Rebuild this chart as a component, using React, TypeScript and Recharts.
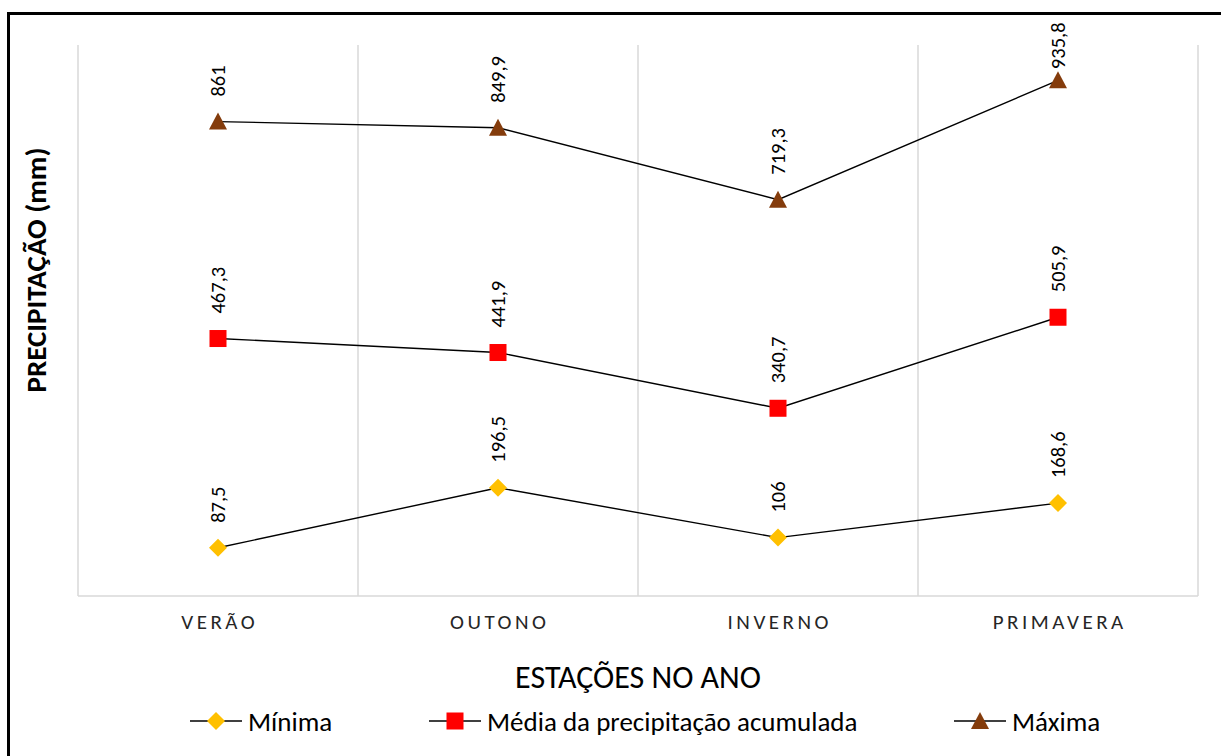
import React from 'react';
import { LineChart, Line, XAxis, YAxis, CartesianGrid, LabelList, Legend } from 'recharts';

const categories = ['VERÃO', 'OUTONO', 'INVERNO', 'PRIMAVERA'];
const minima = [87.5, 196.5, 106, 168.6];
const media = [467.3, 441.9, 340.7, 505.9];
const maxima = [861, 849.9, 719.3, 935.8];

const data = categories.map((season, i) => ({
    season,
    min: minima[i],
    media: media[i],
    max: maxima[i]
}));

const FONT = "Carlito, Calibri, 'Liberation Sans Narrow', 'Open Sans', sans-serif";
const YELLOW = '#FFC000';
const RED = '#FF0000';
const BROWN = '#843C0C';
const LABEL_SIZE = 20.5;

const fmt = (v: number) => String(v).replace('.', ',');

const Marker = ({ kind, cx, cy }: { kind: string; cx: number; cy: number }) => {
    if (kind === 'diamond') {
        return <path d={`M${cx},${cy - 9} L${cx + 9},${cy} L${cx},${cy + 9} L${cx - 9},${cy} Z`} fill={YELLOW} />;
    }
    if (kind === 'square') {
        return <rect x={cx - 8.5} y={cy - 8.5} width={17} height={17} fill={RED} />;
    }
    return <path d={`M${cx},${cy - 9} L${cx + 9},${cy + 8} L${cx - 9},${cy + 8} Z`} fill={BROWN} />;
};

const dotFor = (kind: string) => (props: any) => (
    <Marker key={`${kind}-${props.index}`} kind={kind} cx={props.cx} cy={props.cy} />
);

// rotated value label above the point; pushed down when it would leave the chart
const RotatedLabel = (props: any) => {
    const { x, y, value } = props;
    const text = fmt(value);
    const len = text.length * LABEL_SIZE * 0.46;
    const ly = Math.max(y - 25, 22 + len);
    return (
        <text
            x={x}
            y={ly}
            transform={`rotate(-90, ${x}, ${ly})`}
            textAnchor="start"
            dominantBaseline="central"
            fontFamily={FONT}
            fontSize={LABEL_SIZE}
            fill="#000"
        >
            {text}
        </text>
    );
};

const SeasonTick = (props: any) => {
    const { x, y, payload } = props;
    return (
        <text x={x + 1.75} y={y + 18} textAnchor="middle" dominantBaseline="central"
            fontFamily={FONT} fontSize={21} letterSpacing={3.5} fill="#262626">
            {payload.value}
        </text>
    );
};

const legendItems = [
    { name: 'Mínima', kind: 'diamond', left: 190 },
    { name: 'Média da precipitação acumulada', kind: 'square', left: 429 },
    { name: 'Máxima', kind: 'triangle', left: 954 }
];

const LegendContent = () => (
    <div style={{ position: 'relative', height: 30 }}>
        {legendItems.map(item => (
            <div key={item.name} style={{ position: 'absolute', left: item.left, top: 0, display: 'flex', alignItems: 'center', height: 30 }}>
                <svg width={52} height={24}>
                    <line x1={0} y1={12} x2={52} y2={12} stroke="#000" strokeWidth={1.5} />
                    <Marker kind={item.kind} cx={26} cy={12} />
                </svg>
                <span style={{ fontFamily: FONT, fontSize: 27, color: '#000', marginLeft: 6, whiteSpace: 'nowrap' }}>{item.name}</span>
            </div>
        ))}
    </div>
);

const App: React.FC = () => {
    return (
        <div>
            <div style={{ position: 'fixed', left: 7, top: 12, width: 1230, height: 760, border: '3px solid #000', boxSizing: 'border-box', background: '#fff' }} />
            <div style={{ position: 'fixed', left: 0, top: 0 }}>
                <LineChart width={1221} height={756} data={data} margin={{ top: 45, right: 23, bottom: 0, left: 0 }}>
                    <CartesianGrid
                        horizontal={false}
                        stroke="#d9d9d9"
                        strokeWidth={1.5}
                        verticalCoordinatesGenerator={({ offset }: any) =>
                            Array.from({ length: categories.length + 1 }, (_, i) => offset.left + (i * offset.width) / categories.length)
                        }
                    />
                    <XAxis
                        dataKey="season"
                        scale="band"
                        height={130}
                        tickLine={false}
                        axisLine={{ stroke: '#d9d9d9', strokeWidth: 1.5 }}
                        tick={<SeasonTick />}
                        label={{
                            content: () => (
                                <text x={638} y={677} textAnchor="middle" dominantBaseline="central"
                                    fontFamily={FONT} fontSize={32} fill="#000">
                                    ESTAÇÕES NO ANO
                                </text>
                            )
                        }}
                    />
                    <YAxis
                        width={78}
                        domain={[0, 1000]}
                        tick={false}
                        tickLine={false}
                        axisLine={false}
                        label={{
                            content: () => (
                                <text x={36} y={270} transform="rotate(-90, 36, 270)" textAnchor="middle"
                                    dominantBaseline="central" fontFamily={FONT} fontSize={29} fontWeight="bold" fill="#000">
                                    PRECIPITAÇÃO (mm)
                                </text>
                            )
                        }}
                    />
                    <Legend verticalAlign="bottom" content={<LegendContent />} wrapperStyle={{ left: 0, bottom: 20, width: 1221 }} />
                    <Line dataKey="min" name="Mínima" stroke="#000" strokeWidth={1.4}
                        dot={dotFor('diamond')} activeDot={false} isAnimationActive={false}>
                        <LabelList dataKey="min" content={<RotatedLabel />} />
                    </Line>
                    <Line dataKey="media" name="Média da precipitação acumulada" stroke="#000" strokeWidth={1.4}
                        dot={dotFor('square')} activeDot={false} isAnimationActive={false}>
                        <LabelList dataKey="media" content={<RotatedLabel />} />
                    </Line>
                    <Line dataKey="max" name="Máxima" stroke="#000" strokeWidth={1.4}
                        dot={dotFor('triangle')} activeDot={false} isAnimationActive={false}>
                        <LabelList dataKey="max" content={<RotatedLabel />} />
                    </Line>
                </LineChart>
            </div>
        </div>
    );
};

export default App;
